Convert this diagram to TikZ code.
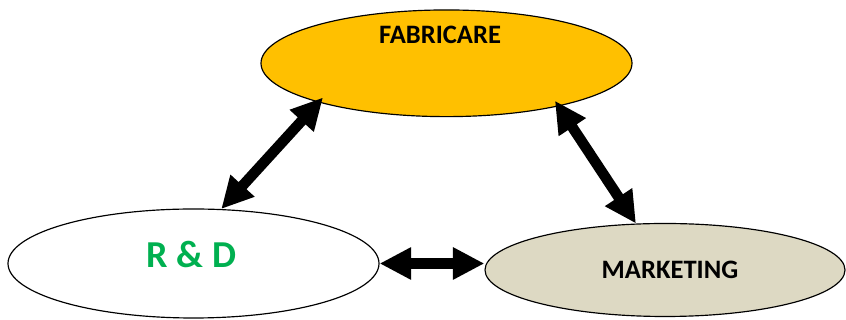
\documentclass[tikz,border=0pt]{standalone}
\usepackage{fontspec}
\setmainfont{Carlito}
\usetikzlibrary{shapes.geometric,arrows.meta}
\definecolor{orfab}{HTML}{FFC000}
\definecolor{gris}{HTML}{DDD9C3}
\definecolor{vert}{HTML}{00B050}

\begin{document}
\begin{tikzpicture}[x=0.3mm, y=0.3mm,
        noeud/.style={draw=black, line width=1pt, ellipse, inner sep=0pt},
        titre/.style={font=\bfseries\fontsize{22.7}{26}\selectfont, anchor=base, inner sep=0pt},
        fleche/.style={line width=9pt, {Triangle[length=27pt,width=26pt]}-{Triangle[length=27pt,width=26pt]}}]
        \useasboundingbox (0,0) rectangle (846,320);

        \node[noeud, fill=orfab, minimum width=111.3mm, minimum height=32mm] (F) at (446.5, 256.7) {};
        \node[noeud, fill=white, minimum width=111.3mm, minimum height=32.7mm] (RD) at (193.5, 56.5) {};
        \node[noeud, fill=gris, minimum width=108mm, minimum height=27.9mm] (M) at (665, 50) {};

        \node[titre] (tF) at (440, 276) {FABRICARE};
        \node[titre, text=vert, font=\bfseries\fontsize{32.5}{36}\selectfont] (tRD) at (191.5, 52) {R \& D};
        \node[titre] (tM) at (670, 41) {MARKETING};

        \draw[fleche, shorten >=-2mm] (RD.63) to (F.197);
        \draw[fleche, shorten <=-2mm] (F.339) to (M.122);
        \draw[fleche] (RD.east) to (RD.east -| M.west);
    \end{tikzpicture}
\end{document}
